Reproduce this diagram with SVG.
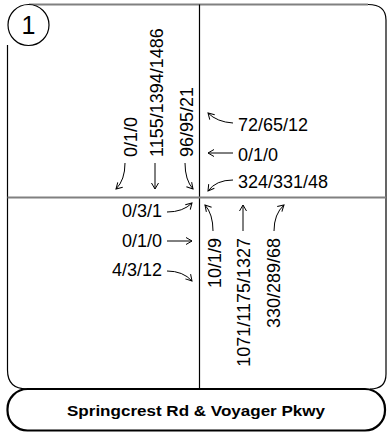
<svg xmlns="http://www.w3.org/2000/svg" width="387" height="432" viewBox="0 0 387 432">
<defs>
<style>
.t{font-family:"Liberation Sans",Arial,sans-serif;font-size:18px;fill:#000}
.a{fill:none;stroke:#000;stroke-width:1;marker-end:url(#ah)}
.ln{fill:none;stroke:#000;stroke-width:1.2}
.gr{fill:none;stroke:#808080;stroke-width:2}
</style>
<marker id="ah" markerUnits="userSpaceOnUse" markerWidth="12" markerHeight="12" viewBox="-8 -6 10 12" refX="0" refY="0" orient="auto">
<path d="M-6,-3.5 L0,0 L-6,3.5" fill="none" stroke="#000" stroke-width="1"/>
</marker>
</defs>
<rect width="387" height="432" fill="#fff"/>
<g id="frame">
<path class="gr" d="M29,4.5 H368"/>
<path class="ln" d="M368,4.5 Q386,4.5 386,20 V374 Q386,389 370,389"/>
<path class="ln" d="M7.5,45 V370 Q7.5,389 27,389"/>
<path class="ln" d="M199.5,4.5 V389"/>
<path class="gr" d="M7.5,197.5 H386"/>
</g>
<g id="badge">
<circle cx="28.5" cy="25" r="20.5" fill="#fff" stroke="#000" stroke-width="1.2"/>
<text x="28.5" y="34" text-anchor="middle" style="font-family:'Liberation Sans',Arial,sans-serif;font-size:25px">1</text>
</g>
<g id="north">
<text class="t" transform="translate(137,157) rotate(-90)">0/1/0</text>
<text class="t" transform="translate(163,157) rotate(-90)">1155/1394/1486</text>
<text class="t" transform="translate(193,157) rotate(-90)">96/95/21</text>
</g>
<g id="east">
<text class="t" x="238" y="131">72/65/12</text>
<text class="t" x="238" y="161">0/1/0</text>
<text class="t" x="238" y="188">324/331/48</text>
</g>
<g id="south">
<text class="t" text-anchor="end" transform="translate(221,238) rotate(-90)">10/1/9</text>
<text class="t" text-anchor="end" transform="translate(250,238) rotate(-90)">1071/1175/1327</text>
<text class="t" text-anchor="end" transform="translate(280,238) rotate(-90)">330/289/68</text>
</g>
<g id="west">
<text class="t" text-anchor="end" x="162" y="217">0/3/1</text>
<text class="t" text-anchor="end" x="162" y="247">0/1/0</text>
<text class="t" text-anchor="end" x="162" y="276">4/3/12</text>
</g>
<g id="connectors">
<path class="a" d="M125,163 Q125,180 116,189"/>
<path class="a" d="M155,163 L155,189"/>
<path class="a" d="M185,163 Q185,180 193,189"/>
<path class="a" d="M233,123 Q217,122 208,113"/>
<path class="a" d="M233,153 L208,153"/>
<path class="a" d="M233,180 Q216,180 208,191"/>
<path class="a" d="M213,231 Q213,214 205,205"/>
<path class="a" d="M243,231 L243,205"/>
<path class="a" d="M274,231 Q274,214 284,205"/>
<path class="a" d="M167,212 Q183,212 192,203"/>
<path class="a" d="M167,241 L192,241"/>
<path class="a" d="M167,271 Q183,271 192,281"/>
</g>
<g id="title">
<rect x="7.5" y="389" width="377.5" height="41.5" rx="20" ry="20" fill="#fff" stroke="#000" stroke-width="2.2"/>
<text x="196" y="416" text-anchor="middle" textLength="258" lengthAdjust="spacingAndGlyphs" style="font-family:'Liberation Sans',Arial,sans-serif;font-size:15px;font-weight:bold">Springcrest Rd &amp; Voyager Pkwy</text>
</g>
</svg>
